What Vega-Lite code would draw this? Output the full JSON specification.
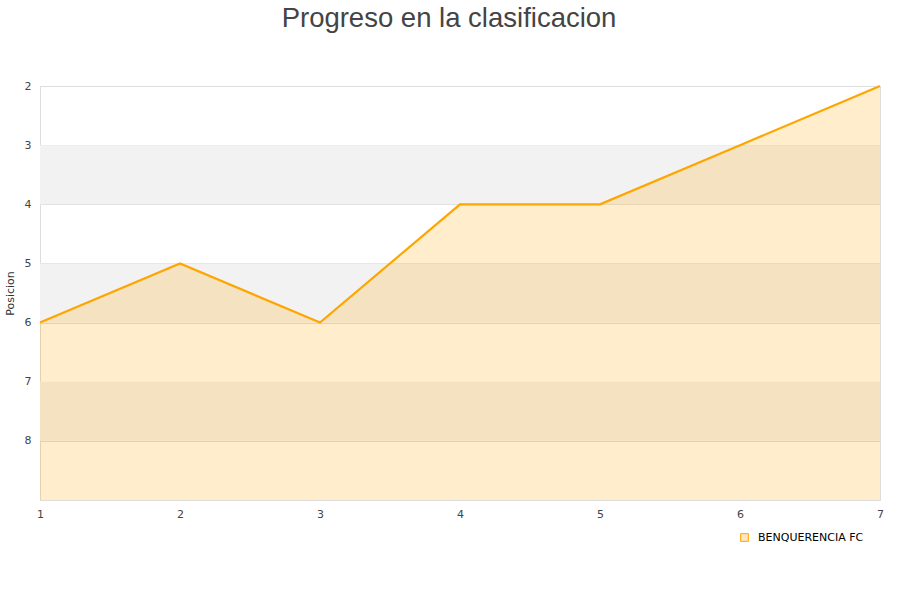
{
  "$schema": "https://vega.github.io/schema/vega-lite/v6.json",
  "autosize": "none",
  "width": 840,
  "height": 414,
  "padding": {"left": 40, "top": 86, "right": 20, "bottom": 100},
  "background": "white",
  "title": {
    "text": "Progreso en la clasificacion",
    "fontSize": 27.5,
    "font": "Liberation Sans",
    "fontWeight": "normal",
    "color": "#444444",
    "anchor": "middle",
    "dx": -11,
    "offset": 48
  },
  "config": {
    "view": {"stroke": "#dddddd", "strokeWidth": 1},
    "axis": {
      "labelFont": "DejaVu Sans",
      "labelFontSize": 11,
      "labelColor": "#444444",
      "titleFont": "DejaVu Sans",
      "titleFontSize": 11,
      "titleFontWeight": "normal",
      "titleColor": "#333333",
      "domain": false,
      "ticks": false
    }
  },
  "datasets": {
    "bands": [
      {"desde": 3, "hasta": 4},
      {"desde": 5, "hasta": 6},
      {"desde": 7, "hasta": 8}
    ],
    "prog": [
      {"Jornada": 1, "Posicion": 6, "Equipo": "BENQUERENCIA FC"},
      {"Jornada": 2, "Posicion": 5, "Equipo": "BENQUERENCIA FC"},
      {"Jornada": 3, "Posicion": 6, "Equipo": "BENQUERENCIA FC"},
      {"Jornada": 4, "Posicion": 4, "Equipo": "BENQUERENCIA FC"},
      {"Jornada": 5, "Posicion": 4, "Equipo": "BENQUERENCIA FC"},
      {"Jornada": 6, "Posicion": 3, "Equipo": "BENQUERENCIA FC"},
      {"Jornada": 7, "Posicion": 2, "Equipo": "BENQUERENCIA FC"}
    ]
  },
  "layer": [
    {
      "data": {"name": "bands"},
      "mark": {"type": "rect", "fill": "#f2f2f2"},
      "encoding": {
        "y": {"field": "desde", "type": "quantitative", "scale": {"domain": [2, 9], "reverse": true, "nice": false, "zero": false}},
        "y2": {"field": "hasta"}
      }
    },
    {
      "data": {"name": "prog"},
      "mark": {"type": "area", "color": "orange", "opacity": 0.2},
      "encoding": {
        "x": {"field": "Jornada", "type": "quantitative", "scale": {"domain": [1, 7], "nice": false, "zero": false},
          "axis": {"values": [1, 2, 3, 4, 5, 6, 7], "format": "d", "grid": false, "labelFlush": false, "labelPadding": 8, "title": null}},
        "y": {"field": "Posicion", "type": "quantitative", "scale": {"domain": [2, 9], "reverse": true, "nice": false, "zero": false},
          "axis": {"values": [2, 3, 4, 5, 6, 7, 8], "format": "d", "grid": true, "gridColor": "#dddddd", "labelFlush": false, "labelPadding": 9, "title": "Posicion", "titlePadding": 9}},
        "y2": {"datum": 9}
      }
    },
    {
      "data": {"name": "prog"},
      "mark": {"type": "line", "strokeWidth": 2.2},
      "encoding": {
        "x": {"field": "Jornada", "type": "quantitative"},
        "y": {"field": "Posicion", "type": "quantitative"},
        "color": {"field": "Equipo", "type": "nominal", "scale": {"range": ["orange"]},
          "legend": {"title": null, "orient": "none", "legendX": 699, "legendY": 446, "symbolType": "square", "symbolSize": 60,
            "symbolFillColor": "#fde6c0", "symbolStrokeWidth": 1, "symbolOpacity": 1,
            "labelOffset": 8,
            "labelFont": "DejaVu Sans", "labelFontSize": 11, "labelColor": "#000000",
            "encode": {"symbols": {"update": {"fill": {"value": "#fde6c0"}, "stroke": {"value": "#a89a80"}, "strokeWidth": {"value": 1}}}}}}
      }
    }
  ]
}
